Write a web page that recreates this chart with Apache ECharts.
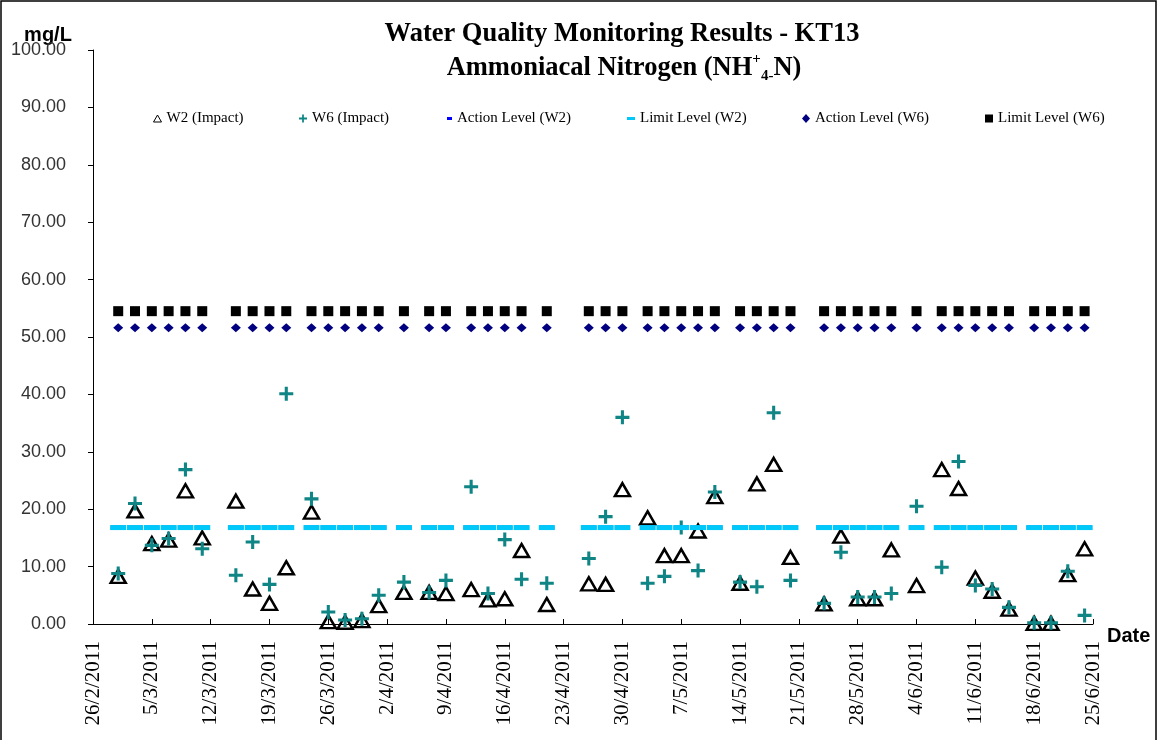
<!DOCTYPE html>
<html><head><meta charset="utf-8">
<script src="https://cdn.jsdelivr.net/npm/echarts@6/dist/echarts.min.js"></script>
<style>html,body{margin:0;padding:0;background:#fff}#c{width:1158px;height:740px}</style>
</head><body><div id="c"></div>
<script>
// ---- data ----
const axisStart = '2011-02-26';
const axisEnd = '2011-06-25';
const tickDays = 7;
const yTicks = [0, 100, 10]; // min, max, interval
const sampleDates = [
  '2011-03-01','2011-03-03','2011-03-05','2011-03-07','2011-03-09','2011-03-11',
  '2011-03-15','2011-03-17','2011-03-19','2011-03-21',
  '2011-03-24','2011-03-26','2011-03-28','2011-03-30','2011-04-01',
  '2011-04-04','2011-04-07','2011-04-09',
  '2011-04-12','2011-04-14','2011-04-16','2011-04-18','2011-04-21',
  '2011-04-26','2011-04-28','2011-04-30',
  '2011-05-03','2011-05-05','2011-05-07','2011-05-09','2011-05-11',
  '2011-05-14','2011-05-16','2011-05-18','2011-05-20',
  '2011-05-24','2011-05-26','2011-05-28','2011-05-30','2011-06-01',
  '2011-06-04',
  '2011-06-07','2011-06-09','2011-06-11','2011-06-13','2011-06-15',
  '2011-06-18','2011-06-20','2011-06-22','2011-06-24'
];
const w2Impact = [
  8.3, 19.7, 14.0, 14.6, 23.2, 15.0,
  21.4, 6.1, 3.6, 9.8,
  19.5, 0.4, 0.3, 0.6, 3.2,
  5.5, 5.5, 5.3,
  6.0, 4.2, 4.4, 12.8, 3.4,
  7.0, 6.9, 23.4,
  18.5, 11.9, 11.9, 16.2, 22.2,
  7.1, 24.4, 27.8, 11.6,
  3.5, 15.3, 4.4, 4.4, 12.9,
  6.7,
  26.9, 23.6, 8.0, 5.7, 2.6,
  0.1, 0.1, 8.6, 13.1
];
const w6Impact = [
  8.8, 21.0, 13.7, 14.9, 26.9, 13.1,
  8.5, 14.3, 6.9, 40.1,
  21.8, 2.1, 0.7, 0.9, 5.0,
  7.3, 5.5, 7.6,
  23.9, 5.3, 14.7, 7.8, 7.1,
  11.4, 18.7, 36.0,
  7.1, 8.3, 16.8, 9.3, 23.0,
  7.3, 6.5, 36.8, 7.6,
  3.6, 12.5, 4.7, 4.7, 5.3,
  20.5,
  9.9, 28.3, 6.7, 6.1, 2.9,
  0.2, 0.2, 9.2, 1.5
];
const actionLevelW2 = 16.8;
const limitLevelW2 = 16.8;
const actionLevelW6 = 51.6;
const limitLevelW6 = 54.5;
const seriesNames = ['W2 (Impact)', 'W6 (Impact)', 'Action Level (W2)', 'Limit Level (W2)', 'Action Level (W6)', 'Limit Level (W6)'];

// ---- helpers ----
const DAY = 86400000;
function utc(s){ const p = s.split('-').map(Number); return Date.UTC(p[0], p[1]-1, p[2]); }
const t0 = utc(axisStart);
const dayOf = s => (utc(s) - t0) / DAY;
const xs = sampleDates.map(dayOf);
const pairs = vals => xs.map((x, i) => [x, vals[i]]);
const constPairs = v => xs.map(x => [x, v]);
function fmtDay(v){ const d = new Date(t0 + v * DAY); return d.getUTCDate() + '/' + (d.getUTCMonth()+1) + '/' + d.getUTCFullYear(); }

const plusPath = 'path://M3.9,0H6.1V3.9H10V6.1H6.1V10H3.9V6.1H0V3.9H3.9Z';
const TEAL = '#0f8585', CYAN = '#00c8f8', NAVY = '#000080', BLUE = '#0000ff';
const serif = 'Liberation Serif, Times New Roman, serif';
const sans = 'Liberation Sans, Arial, sans-serif';
const legTxt = {fontFamily: serif, fontSize: 15, color: '#000'};

function leg(name, left, w, h, extra){
  return Object.assign({data:[name], left: left, top: 106, itemWidth: w, itemHeight: h, padding: 5,
    textStyle: legTxt, selectedMode: false}, extra || {});
}

const chart = echarts.init(document.getElementById('c'), null, {renderer: 'canvas'});
chart.setOption({
  backgroundColor: '#fff',
  animation: false,
  title: [
    {text: 'Water Quality Monitoring Results - KT13', left: 622, top: 21, padding: 0, textAlign: 'center',
     textStyle: {fontFamily: serif, fontWeight: 'bold', fontSize: 26.5, color: '#000', lineHeight: 26}},
    {text: '{m|Ammoniacal Nitrogen (NH}{sup|+}{sub|4-}{m|N)}', left: 624, top: 52, padding: 0, textAlign: 'center',
     textStyle: {rich: {
       m: {fontFamily: serif, fontWeight: 'bold', fontSize: 26.5, color: '#000', lineHeight: 32},
       sup: {fontFamily: serif, fontWeight: 'bold', fontSize: 15, color: '#000', lineHeight: 18, verticalAlign: 'top'},
       sub: {fontFamily: serif, fontWeight: 'bold', fontSize: 15, color: '#000', lineHeight: 14, verticalAlign: 'bottom'}
     }}}
  ],
  legend: [
    leg(seriesNames[0], 148, 8, 7, {icon: 'triangle', itemStyle: {color: 'rgba(0,0,0,0)', borderColor: '#000', borderWidth: 1, opacity: 1}}),
    leg(seriesNames[1], 294, 8, 8, {icon: plusPath, itemStyle: {color: TEAL, borderWidth: 0, opacity: 1}}),
    leg(seriesNames[2], 442, 5, 3, {icon: 'rect', itemStyle: {color: BLUE, borderWidth: 0, opacity: 1}}),
    leg(seriesNames[3], 622, 8, 3, {icon: 'rect', itemStyle: {color: CYAN, borderWidth: 0, opacity: 1}}),
    leg(seriesNames[4], 797, 8, 9, {icon: 'diamond', itemStyle: {color: NAVY, borderWidth: 0, opacity: 1}}),
    leg(seriesNames[5], 980, 8, 8, {icon: 'rect', itemStyle: {color: '#000', borderWidth: 0, opacity: 1}})
  ],
  grid: {left: 93, right: 65, top: 50, bottom: 116, containLabel: false, outerBoundsMode: 'none'},
  xAxis: {
    type: 'value', min: 0, max: dayOf(axisEnd), interval: tickDays,
    axisLine: {show: true, onZero: false, lineStyle: {color: '#000', width: 1}},
    axisTick: {show: true, inside: true, length: 5, lineStyle: {color: '#000'}},
    splitLine: {show: false},
    axisLabel: {rotate: 90, margin: 17, formatter: fmtDay, fontFamily: serif, fontSize: 21, color: '#000',
      showMinLabel: true, showMaxLabel: true, hideOverlap: false}
  },
  yAxis: {
    type: 'value', min: yTicks[0], max: yTicks[1], interval: yTicks[2],
    axisLine: {show: true, lineStyle: {color: '#000', width: 1}},
    axisTick: {show: true, inside: false, length: 5, lineStyle: {color: '#000'}},
    splitLine: {show: false},
    axisLabel: {margin: 27, formatter: v => v.toFixed(2), fontFamily: sans, fontSize: 18, color: '#333'}
  },
  graphic: [
    {type: 'rect', shape: {x: 1, y: 1, width: 1155, height: 760}, style: {fill: 'none', stroke: '#000', lineWidth: 1.5}, silent: true},
    {type: 'text', x: 48, y: 35, style: {text: 'mg/L', font: 'bold 20px ' + sans, fill: '#000', textAlign: 'center', textVerticalAlign: 'middle'}},
    {type: 'text', x: 1107, y: 636, style: {text: 'Date', font: 'bold 20px ' + sans, fill: '#000', textAlign: 'left', textVerticalAlign: 'middle'}}
  ],
  series: [
    {name: seriesNames[0], type: 'scatter', data: pairs(w2Impact), symbol: 'triangle', symbolSize: [15, 13], z: 2,
     itemStyle: {color: 'rgba(0,0,0,0)', borderColor: '#000', borderWidth: 2.5, opacity: 1}},
    {name: seriesNames[1], type: 'scatter', data: pairs(w6Impact), symbol: plusPath, symbolSize: 14, z: 3,
     itemStyle: {color: TEAL, opacity: 1}},
    {name: seriesNames[2], type: 'scatter', data: constPairs(actionLevelW2), symbol: 'rect', symbolSize: [15, 4], z: 3,
     itemStyle: {color: BLUE, opacity: 1}},
    {name: seriesNames[3], type: 'scatter', data: constPairs(limitLevelW2), symbol: 'rect', symbolSize: [16, 5], z: 4,
     itemStyle: {color: CYAN, opacity: 1}},
    {name: seriesNames[4], type: 'scatter', data: constPairs(actionLevelW6), symbol: 'diamond', symbolSize: [10, 9], z: 4,
     itemStyle: {color: NAVY, opacity: 1}},
    {name: seriesNames[5], type: 'scatter', data: constPairs(limitLevelW6), symbol: 'rect', symbolSize: 10, z: 4,
     itemStyle: {color: '#000', opacity: 1}}
  ]
});
</script>
</body></html>
